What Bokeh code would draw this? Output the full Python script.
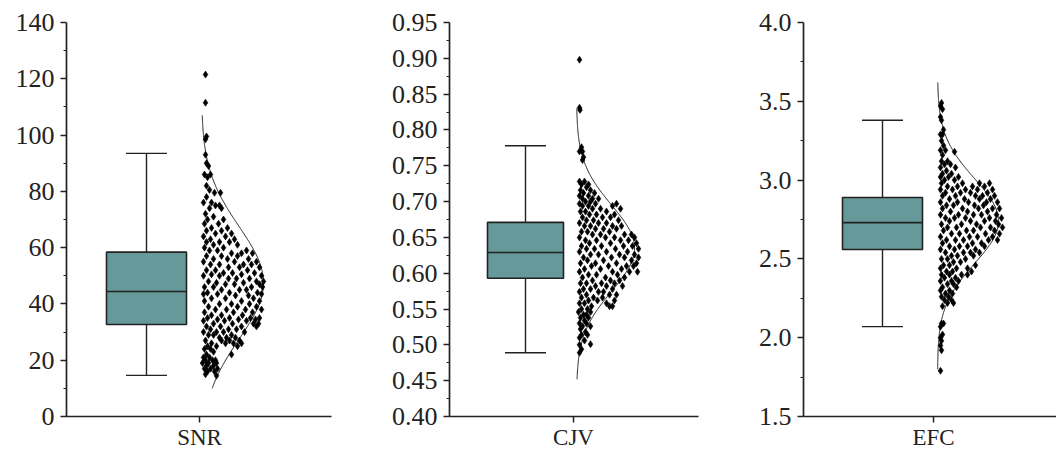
import numpy as np
from bokeh.plotting import figure
from bokeh.layouts import row
from bokeh.models import Range1d, FixedTicker, PrintfTickFormatter, ColumnDataSource
from bokeh.embed import file_html
from bokeh.resources import INLINE

# ---------------- data ----------------
categories = ["SNR", "CJV", "EFC"]

# box statistics: whisker low, Q1, median, Q3, whisker high
snr_box = [14.6, 32.7, 44.4, 58.4, 93.5]
cjv_box = [0.489, 0.593, 0.629, 0.671, 0.778]
efc_box = [2.07, 2.56, 2.73, 2.89, 3.38]

# fitted normal curves: mean, sd, lowest y, highest y
snr_curve = [47.5, 20.0, 10.0, 107.0]
cjv_curve = [0.635, 0.060, 0.452, 0.830]
efc_curve = [2.74, 0.27, 1.80, 3.62]

# individual observations: (value, horizontal jitter offsets)
snr_points = [
    (121.5, [0.04]), (111.5, [0.04]), (99.5, [0.05]), (98.5, [0.04]), (93.0, [0.04]),
    (90.0, [0.05]), (89.0, [0.07]), (86.0, [0.03, 0.09]), (85.0, [0.06]), (82.0, [0.05]),
    (80.5, [0.08]), (79.5, [0.13, 0.19]), (78.0, [0.05]), (76.0, [0.02, 0.10]),
    (75.0, [0.14, 0.18]), (74.0, [0.08, 0.20]), (72.0, [0.04]), (71.0, [0.12]),
    (70.0, [0.06, 0.22]), (68.5, [0.03, 0.17]), (67.0, [0.10, 0.26]), (66.0, [0.05, 0.20]),
    (65.0, [0.14, 0.30]), (64.0, [0.02, 0.24]), (63.0, [0.09, 0.33]), (62.0, [0.05, 0.18, 0.28]),
    (61.0, [0.12, 0.36]), (60.0, [0.03, 0.22]), (59.0, [0.08, 0.16, 0.45]),
    (58.0, [0.30, 0.51, 0.40]), (57.0, [0.05, 0.20, 0.36]), (56.0, [0.12, 0.26, 0.47]),
    (55.0, [0.02, 0.33, 0.55]), (54.0, [0.09, 0.18, 0.42, 0.50]), (53.0, [0.27, 0.38, 0.58]),
    (52.0, [0.05, 0.14, 0.46]), (51.0, [0.22, 0.31, 0.53]), (50.5, [0.10, 0.40]),
    (50.0, [0.02, 0.18, 0.60]), (49.0, [0.27, 0.35, 0.48]), (48.0, [0.07, 0.55, 0.62]),
    (47.5, [0.15, 0.42]), (47.0, [0.24, 0.33, 0.58]), (46.0, [0.03, 0.12, 0.50, 0.61]),
    (45.0, [0.20, 0.38, 0.45]), (44.0, [0.06, 0.28, 0.56]), (43.5, [0.02, 0.16, 0.60]),
    (43.0, [0.34, 0.47]), (42.0, [0.10, 0.24, 0.52]), (41.0, [0.03, 0.40, 0.58]),
    (40.0, [0.18, 0.30, 0.48]), (39.0, [0.07, 0.36, 0.55]), (38.0, [0.14, 0.25, 0.44, 0.60]),
    (37.0, [0.03, 0.32, 0.51]), (36.0, [0.10, 0.20, 0.41]), (35.0, [0.06, 0.28, 0.49, 0.58]),
    (34.5, [0.16, 0.37, 0.54]), (34.0, [0.02, 0.23, 0.45]), (33.0, [0.12, 0.31, 0.52, 0.57]),
    (32.0, [0.05, 0.19, 0.40, 0.55]), (31.0, [0.09, 0.27, 0.35]), (30.0, [0.02, 0.15, 0.22, 0.43]),
    (29.0, [0.07, 0.12, 0.30]), (28.0, [0.18, 0.25, 0.34]), (27.0, [0.04, 0.20, 0.28, 0.38]),
    (26.0, [0.10, 0.24, 0.32, 0.40]), (25.0, [0.06, 0.15, 0.36]), (24.0, [0.03, 0.09]),
    (23.0, [0.12]), (22.0, [0.05, 0.30]), (21.0, [0.02, 0.08]), (20.0, [0.04, 0.11, 0.14]),
    (19.0, [0.01, 0.07, 0.15]), (18.0, [0.05, 0.12]), (17.0, [0.03, 0.09, 0.16]),
    (16.0, [0.06, 0.13]), (15.0, [0.04]), (14.5, [0.15]),
]

cjv_points = [
    (0.898, [0.03]), (0.831, [0.03]), (0.828, [0.035]), (0.776, [0.05]), (0.770, [0.03, 0.06]),
    (0.762, [0.07]), (0.758, [0.06]), (0.728, [0.03, 0.08]), (0.724, [0.05, 0.12]),
    (0.720, [0.10]), (0.716, [0.04, 0.14]), (0.712, [0.07, 0.18]), (0.708, [0.03, 0.12]),
    (0.704, [0.06, 0.16, 0.22]), (0.700, [0.09, 0.14]), (0.697, [0.03, 0.19, 0.40]),
    (0.694, [0.06, 0.12, 0.36]), (0.690, [0.16, 0.24, 0.44]), (0.686, [0.04, 0.09, 0.30]),
    (0.682, [0.13, 0.20, 0.38]), (0.678, [0.06, 0.26, 0.34]), (0.674, [0.10, 0.17, 0.42]),
    (0.670, [0.03, 0.22, 0.30]), (0.666, [0.08, 0.14, 0.36, 0.45]), (0.662, [0.19, 0.27, 0.40]),
    (0.658, [0.05, 0.11, 0.33]), (0.654, [0.16, 0.24, 0.48, 0.55]), (0.650, [0.03, 0.29, 0.38, 0.58]),
    (0.646, [0.09, 0.20, 0.44, 0.52]), (0.642, [0.13, 0.34, 0.60]), (0.638, [0.05, 0.25, 0.47, 0.56]),
    (0.634, [0.10, 0.18, 0.39, 0.62]), (0.630, [0.03, 0.30, 0.51]), (0.626, [0.14, 0.22, 0.43, 0.58]),
    (0.622, [0.07, 0.35, 0.48, 0.62]), (0.618, [0.11, 0.27, 0.55]), (0.614, [0.04, 0.19, 0.40, 0.60]),
    (0.610, [0.15, 0.32, 0.50, 0.57]), (0.606, [0.08, 0.24, 0.45]), (0.602, [0.03, 0.36, 0.53, 0.61]),
    (0.598, [0.12, 0.20, 0.41]), (0.594, [0.06, 0.29, 0.48]), (0.590, [0.16, 0.34, 0.43]),
    (0.586, [0.04, 0.10, 0.25, 0.38]), (0.582, [0.19, 0.30, 0.46]), (0.578, [0.07, 0.14, 0.36]),
    (0.574, [0.03, 0.22, 0.27]), (0.570, [0.10, 0.33, 0.40]), (0.566, [0.05, 0.17, 0.26]),
    (0.562, [0.12, 0.21, 0.38]), (0.558, [0.03, 0.08, 0.30]), (0.554, [0.15, 0.33, 0.36]),
    (0.550, [0.05, 0.11]), (0.546, [0.02, 0.14]), (0.542, [0.07, 0.10]), (0.538, [0.04, 0.12]),
    (0.534, [0.08]), (0.530, [0.03, 0.10]), (0.526, [0.06, 0.14]), (0.522, [0.04]),
    (0.518, [0.09]), (0.514, [0.05, 0.11]), (0.510, [0.03]), (0.506, [0.08]), (0.501, [0.14]),
    (0.500, [0.03]), (0.494, [0.05]), (0.489, [0.03]),
]

efc_points = [
    (3.49, [0.04]), (3.47, [0.03]), (3.45, [0.05]), (3.40, [0.03]), (3.38, [0.04]), (3.32, [0.06]),
    (3.29, [0.03, 0.05]), (3.25, [0.04]), (3.22, [0.06]), (3.19, [0.03, 0.08]), (3.18, [0.17]),
    (3.16, [0.05]), (3.12, [0.04, 0.10]), (3.10, [0.07, 0.13]), (3.08, [0.03, 0.18]), (3.06, [0.09]),
    (3.04, [0.05, 0.14]), (3.02, [0.03, 0.11, 0.21]), (3.00, [0.07, 0.17]),
    (2.98, [0.04, 0.25, 0.42, 0.52]), (2.96, [0.10, 0.20, 0.35, 0.47]),
    (2.94, [0.03, 0.15, 0.28, 0.40, 0.55]), (2.92, [0.08, 0.23, 0.33, 0.50]),
    (2.90, [0.05, 0.18, 0.38, 0.45, 0.57]), (2.88, [0.12, 0.27, 0.42, 0.53]),
    (2.86, [0.03, 0.20, 0.31, 0.49, 0.60]), (2.84, [0.09, 0.16, 0.37, 0.46]),
    (2.82, [0.05, 0.25, 0.41, 0.55, 0.62]), (2.80, [0.13, 0.30, 0.50]),
    (2.78, [0.03, 0.21, 0.36, 0.44, 0.59]), (2.76, [0.08, 0.17, 0.28, 0.52, 0.64]),
    (2.74, [0.12, 0.33, 0.47, 0.58]), (2.72, [0.04, 0.24, 0.39, 0.61]),
    (2.70, [0.10, 0.19, 0.43, 0.53, 0.65]), (2.68, [0.06, 0.29, 0.36, 0.57]),
    (2.66, [0.14, 0.22, 0.48, 0.62]), (2.64, [0.03, 0.32, 0.40, 0.55]),
    (2.62, [0.09, 0.18, 0.26, 0.51, 0.60]), (2.60, [0.05, 0.35, 0.44]),
    (2.58, [0.12, 0.22, 0.30, 0.47]), (2.56, [0.03, 0.17, 0.38]), (2.54, [0.08, 0.26, 0.33, 0.42]),
    (2.52, [0.14, 0.20, 0.36]), (2.50, [0.04, 0.10, 0.28]), (2.48, [0.16, 0.23]),
    (2.46, [0.06, 0.12, 0.38]), (2.44, [0.03, 0.19, 0.30]), (2.42, [0.09, 0.15, 0.34]),
    (2.40, [0.04, 0.12, 0.24, 0.30]), (2.38, [0.07, 0.18]), (2.36, [0.03, 0.14, 0.21]),
    (2.34, [0.10, 0.16]), (2.32, [0.05, 0.19]), (2.30, [0.03, 0.12]), (2.28, [0.08, 0.15]),
    (2.26, [0.04, 0.11]), (2.24, [0.07, 0.14]), (2.22, [0.10, 0.16]), (2.20, [0.05]),
    (2.09, [0.04, 0.06]), (2.07, [0.03]), (2.02, [0.05]), (2.00, [0.03]), (1.98, [0.04]),
    (1.95, [0.03]), (1.92, [0.04]), (1.79, [0.03]),
]

snr_ticks = [0, 20, 40, 60, 80, 100, 120, 140]
cjv_ticks = [0.40, 0.45, 0.50, 0.55, 0.60, 0.65, 0.70, 0.75, 0.80, 0.85, 0.90, 0.95]
efc_ticks = [1.5, 2.0, 2.5, 3.0, 3.5, 4.0]

# ---------------- styling ----------------
BOX_FILL = "#669999"
INK = "#222222"
FONT = "Liberation Serif"


def make_panel(name, box, curve, points, ticks, fmt, cfg):
    p = figure(width=cfg["width"], height=452, output_backend="svg", toolbar_location=None,
               x_range=Range1d(cfg["xmin"], cfg["xmax"]),
               y_range=Range1d(ticks[0], ticks[-1]),
               min_border_left=cfg["bl"], min_border_right=cfg["br"],
               min_border_top=22, min_border_bottom=0)
    p.outline_line_color = None
    p.grid.visible = False
    p.background_fill_color = "white"
    p.border_fill_color = "white"

    # y axis
    yax = p.yaxis[0]
    step = ticks[1] - ticks[0]
    minors = [t + step / 2 for t in ticks[:-1]]
    yax.ticker = FixedTicker(ticks=ticks, minor_ticks=minors)
    yax.formatter = PrintfTickFormatter(format=fmt)
    yax.major_label_text_font = FONT
    yax.major_label_text_font_size = "26px"
    yax.major_label_text_color = INK
    yax.major_label_standoff = 6
    yax.axis_line_color = INK
    yax.axis_line_width = 1.7
    yax.major_tick_line_color = INK
    yax.major_tick_line_width = 1.5
    yax.major_tick_out = 6
    yax.major_tick_in = 0
    yax.minor_tick_line_color = INK
    yax.minor_tick_line_width = 1.2
    yax.minor_tick_out = 3
    yax.minor_tick_in = 0

    # x axis with a single category tick
    xax = p.xaxis[0]
    xax.ticker = FixedTicker(ticks=[0], minor_ticks=[])
    xax.major_label_overrides = {0: name}
    xax.major_label_text_font = FONT
    xax.major_label_text_font_size = "23px"
    xax.major_label_text_color = INK
    xax.major_label_standoff = 2
    xax.axis_line_color = INK
    xax.axis_line_width = 1.7
    xax.major_tick_line_color = INK
    xax.major_tick_line_width = 1.5
    xax.major_tick_out = 6
    xax.major_tick_in = 0
    xax.minor_tick_line_color = None

    lo, q1, med, q3, hi = box
    bc = cfg["box_c"]
    hw = cfg["box_w"] / 2
    cw = cfg["cap_w"] / 2
    # whiskers
    p.segment(x0=[bc, bc], y0=[q3, q1], x1=[bc, bc], y1=[hi, lo], line_color=INK, line_width=1.4)
    p.segment(x0=[bc - cw, bc - cw], y0=[hi, lo], x1=[bc + cw, bc + cw], y1=[hi, lo],
              line_color=INK, line_width=1.4)
    # box
    p.quad(left=[bc - hw], right=[bc + hw], bottom=[q1], top=[q3],
           fill_color=BOX_FILL, line_color=INK, line_width=1.6)
    p.segment(x0=[bc - hw], y0=[med], x1=[bc + hw], y1=[med], line_color=INK, line_width=1.6)

    # fitted normal distribution curve
    mu, sd, ylo, yhi = curve
    yy = np.linspace(ylo, yhi, 300)
    xx = cfg["base"] + cfg["peak"] * np.exp(-0.5 * ((yy - mu) / sd) ** 2)
    p.line(xx, yy, line_color=INK, line_width=1)

    # observations
    px, py = [], []
    for val, offs in points:
        for o in offs:
            px.append(cfg["base"] + o)
            py.append(val)
    src = ColumnDataSource(dict(x=px, y=py))
    p.scatter("x", "y", source=src, marker="diamond", size=7, fill_color="black",
              line_color="black", line_width=0.6)
    return p


cfg1 = dict(width=380, bl=66, br=49, xmin=-1.33, xmax=1.32, box_c=-0.53, box_w=0.80,
            cap_w=0.41, base=0.02, peak=0.62)
cfg2 = dict(width=355, bl=69, br=37, xmin=-1.24, xmax=1.25, box_c=-0.48, box_w=0.76,
            cap_w=0.41, base=0.03, peak=0.58)
cfg3 = dict(width=321, bl=68, br=0, xmin=-1.30, xmax=1.23, box_c=-0.51, box_w=0.80,
            cap_w=0.41, base=0.04, peak=0.61)

p1 = make_panel(categories[0], snr_box, snr_curve, snr_points, snr_ticks, "%d", cfg1)
p2 = make_panel(categories[1], cjv_box, cjv_curve, cjv_points, cjv_ticks, "%.2f", cfg2)
p3 = make_panel(categories[2], efc_box, efc_curve, efc_points, efc_ticks, "%.1f", cfg3)

layout = row(p1, p2, p3, spacing=0)
open("out.html", "w").write(file_html(layout, INLINE))
